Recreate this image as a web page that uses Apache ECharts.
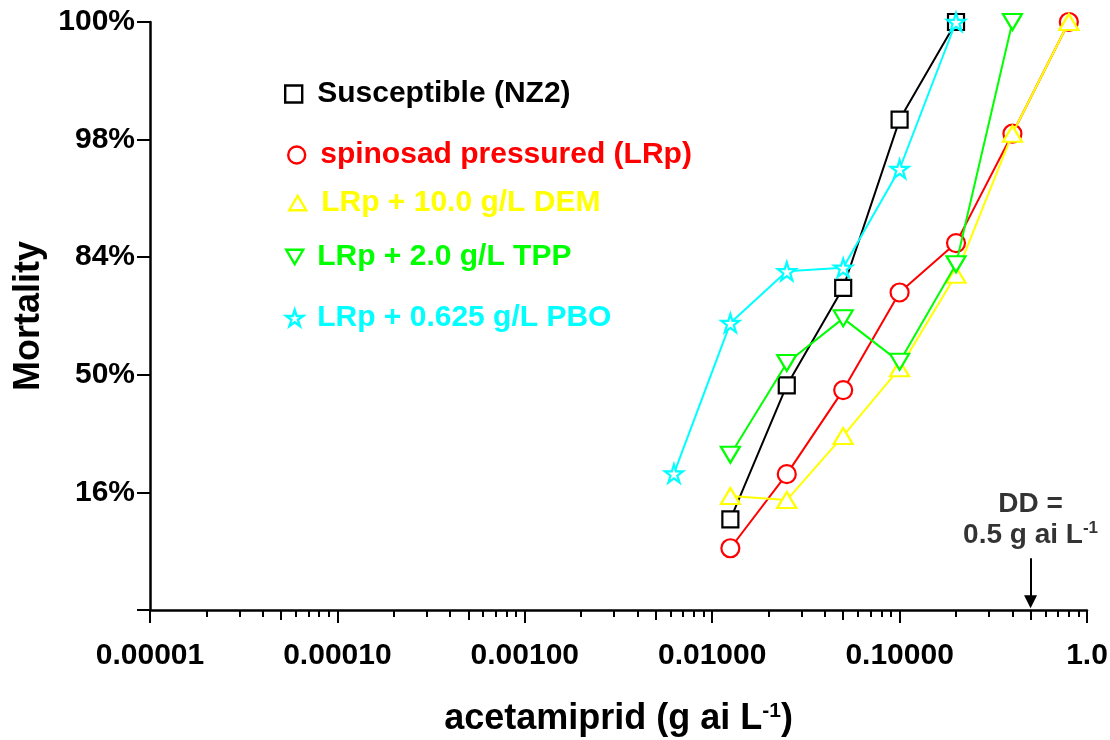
<!DOCTYPE html>
<html>
<head>
<meta charset="utf-8">
<script src="https://cdn.jsdelivr.net/npm/echarts@6/dist/echarts.min.js"></script>
<style>html,body{margin:0;padding:0;background:#fff}#c{width:1110px;height:740px}</style>
</head>
<body>
<div id="c"></div>
<script>
// ---------- DATA ----------
// mortality expressed as normal equivalent deviates (probit - 5): -1 = 16%, 0 = 50%, 1 = 84%, 2 = 98%, 3 = 100%
const seriesNames = ['Susceptible (NZ2)', 'spinosad pressured (LRp)', 'LRp + 10.0 g/L DEM', 'LRp + 2.0 g/L TPP', 'LRp + 0.625 g/L PBO'];

const nz2Dose = [0.0125, 0.025, 0.05, 0.1, 0.2];
const nz2Mort = [-1.23, -0.09, 0.74, 2.17, 3.0];

const lrpDose = [0.0125, 0.025, 0.05, 0.1, 0.2, 0.4, 0.8];
const lrpMort = [-1.475, -0.845, -0.13, 0.70, 1.12, 2.05, 3.0];

const demDose = [0.0125, 0.025, 0.05, 0.1, 0.2, 0.4, 0.8];
const demMort = [-1.03, -1.065, -0.52, 0.055, 0.85, 2.05, 3.0];

const tppDose = [0.0125, 0.025, 0.05, 0.1, 0.2, 0.4];
const tppMort = [-0.68, 0.10, 0.48, 0.11, 0.94, 3.0];

const pboDose = [0.00625, 0.0125, 0.025, 0.05, 0.1, 0.2];
const pboMort = [-0.84, 0.44, 0.88, 0.91, 1.75, 3.0];

const ddDose = 0.5; // discriminating dose, g ai/L

const yTickValues = [-2, -1, 0, 1, 2, 3];
const yTickLabels = ['', '16%', '50%', '84%', '98%', '100%'];
const xTickExponents = [-5, -4, -3, -2, -1, 0];
const xTickLabels = ['0.00001', '0.00010', '0.00100', '0.01000', '0.10000', '1.0'];
const minorMultipliers = [2, 3, 4, 6, 7, 8, 9];
const midMultipliers = [5];

// ---------- STYLE ----------
const FONT = 'Arial, "Liberation Sans", Helvetica, sans-serif';
const colors = ['#000000', '#ff0000', '#ffff00', '#00ff00', '#00ffff'];
const SQUARE = 'path://M0,0 L20,0 L20,20 L0,20 Z';
const STAR = 'path://M50,2 L61,36 L97,36 L68,57 L79,92 L50,71 L21,92 L32,57 L3,36 L39,36 Z';
const DOWN_TRI = 'path://M0,0 L20,0 L10,17 Z';
const UP_TRI = 'path://M10,0 L20,17 L0,17 Z';
const symbols = [SQUARE, 'circle', UP_TRI, DOWN_TRI, STAR];
const symbolSizes = [16, 18, [19, 16], [19, 16], 18];
// legend layout: [left, top, text padding-left]
const legendPos = [[284, 79, 10], [287, 140, 10], [288, 188, 10], [285, 242, 9], [285, 303, 9]];

const doses = [nz2Dose, lrpDose, demDose, tppDose, pboDose];
const morts = [nz2Mort, lrpMort, demMort, tppMort, pboMort];

function zip(a, b) { return a.map((v, i) => [v, b[i]]); }
function decadeTicks(mults) {
  const out = [];
  for (let e = -5; e < 0; e++) mults.forEach(m => out.push(Math.log10(m) + e));
  return out;
}

const GRID = { left: 150, right: 23, top: 22, bottom: 130, outerBoundsMode: 'none', containLabel: false };

const chart = echarts.init(document.getElementById('c'), null, { renderer: 'canvas' });

const series = seriesNames.map((name, i) => ({
  type: 'line',
  name: name,
  xAxisIndex: 0, yAxisIndex: 0,
  data: zip(doses[i], morts[i]),
  symbol: symbols[i],
  symbolSize: symbolSizes[i],
  showAllSymbol: true,
  itemStyle: { color: '#ffffff', borderColor: colors[i], borderWidth: 2.2 },
  lineStyle: { color: colors[i], width: 2 },
  emphasis: { disabled: true },
  z: 2 + i
}));

series.push({
  type: 'scatter',
  name: 'DD',
  xAxisIndex: 0, yAxisIndex: 0,
  data: [[ddDose, -1.56]],
  symbolSize: 0,
  silent: true,
  label: {
    show: true,
    position: 'top',
    distance: 7,
    formatter: '{a|DD =}\n{a|' + ddDose + ' g ai L}{s|-1}',
    rich: {
      a: { fontSize: 28, fontWeight: 'bold', fontFamily: FONT, color: '#000', lineHeight: 31, align: 'center' },
      s: { fontSize: 17, fontWeight: 'bold', fontFamily: FONT, color: '#000', lineHeight: 17, verticalAlign: 'top' }
    }
  },
  markLine: {
    silent: true,
    symbol: ['none', 'triangle'],
    symbolSize: 13,
    label: { show: false },
    lineStyle: { color: '#000', width: 2, type: 'solid' },
    emphasis: { disabled: true },
    data: [[{ coord: [ddDose, -1.56] }, { coord: [ddDose, -1.93] }]]
  }
});

const legends = seriesNames.map((name, i) => ({
  data: [{ name: name, icon: symbols[i], itemStyle: { color: '#ffffff', borderColor: colors[i], borderWidth: 2.4 } }],
  left: legendPos[i][0],
  top: legendPos[i][1],
  padding: 0,
  itemWidth: 17,
  itemHeight: 17,
  selectedMode: false,
  textStyle: { color: colors[i], fontSize: 30, fontWeight: 'bold', fontFamily: FONT, padding: [0, 0, 0, legendPos[i][2]] }
}));

const tickStyle = { color: '#000', width: 2 };

chart.setOption({
  animation: false,
  backgroundColor: '#ffffff',
  legend: legends,
  grid: [
    Object.assign({}, GRID),
    Object.assign({}, GRID),
    Object.assign({}, GRID)
  ],
  xAxis: [
    {
      type: 'log', logBase: 10, gridIndex: 0,
      min: 0.00001, max: 1,
      axisLine: { show: true, onZero: false, lineStyle: { color: '#000', width: 2.5 } },
      axisTick: { show: true, length: 13, lineStyle: tickStyle },
      splitLine: { show: false },
      axisLabel: {
        margin: 31, fontSize: 30, fontWeight: 'bold', fontFamily: FONT, color: '#000',
        formatter: function (v) {
          const e = Math.round(Math.log10(v));
          const k = xTickExponents.indexOf(e);
          return k >= 0 ? xTickLabels[k] : '';
        }
      },
      name: '{m|acetamiprid (g ai L}{s|-1}{m|)}',
      nameLocation: 'middle',
      nameGap: 91,
      nameTextStyle: {
        rich: {
          m: { fontSize: 36, fontWeight: 'bold', fontFamily: FONT, color: '#000' },
          s: { fontSize: 21, fontWeight: 'bold', fontFamily: FONT, color: '#000', verticalAlign: 'top' }
        }
      }
    },
    {
      type: 'value', gridIndex: 1, min: -5, max: 0,
      axisLine: { show: false, onZero: false },
      axisTick: { show: true, length: 7, lineStyle: tickStyle, customValues: decadeTicks(minorMultipliers) },
      axisLabel: { show: false },
      splitLine: { show: false }
    },
    {
      type: 'value', gridIndex: 2, min: -5, max: 0,
      axisLine: { show: false, onZero: false },
      axisTick: { show: true, length: 10, lineStyle: tickStyle, customValues: decadeTicks(midMultipliers) },
      axisLabel: { show: false },
      splitLine: { show: false }
    }
  ],
  yAxis: [
    {
      type: 'value', gridIndex: 0,
      min: -2, max: 3, interval: 1,
      axisLine: { show: true, onZero: false, lineStyle: { color: '#000', width: 2.5 } },
      axisTick: { show: true, length: 13, lineStyle: tickStyle },
      splitLine: { show: false },
      axisLabel: {
        margin: 15, fontSize: 30, fontWeight: 'bold', fontFamily: FONT, color: '#000',
        formatter: function (v) {
          const k = yTickValues.indexOf(Math.round(v));
          return k >= 0 ? yTickLabels[k] : '';
        }
      },
      name: 'Mortality',
      nameLocation: 'middle',
      nameRotate: 90,
      nameGap: 102,
      nameTextStyle: { fontSize: 36, fontWeight: 'bold', fontFamily: FONT, color: '#000' }
    },
    { type: 'value', gridIndex: 1, min: -2, max: 3, show: false, axisLine: { onZero: false } },
    { type: 'value', gridIndex: 2, min: -2, max: 3, show: false, axisLine: { onZero: false } }
  ],
  series: series
});
</script>
</body>
</html>
